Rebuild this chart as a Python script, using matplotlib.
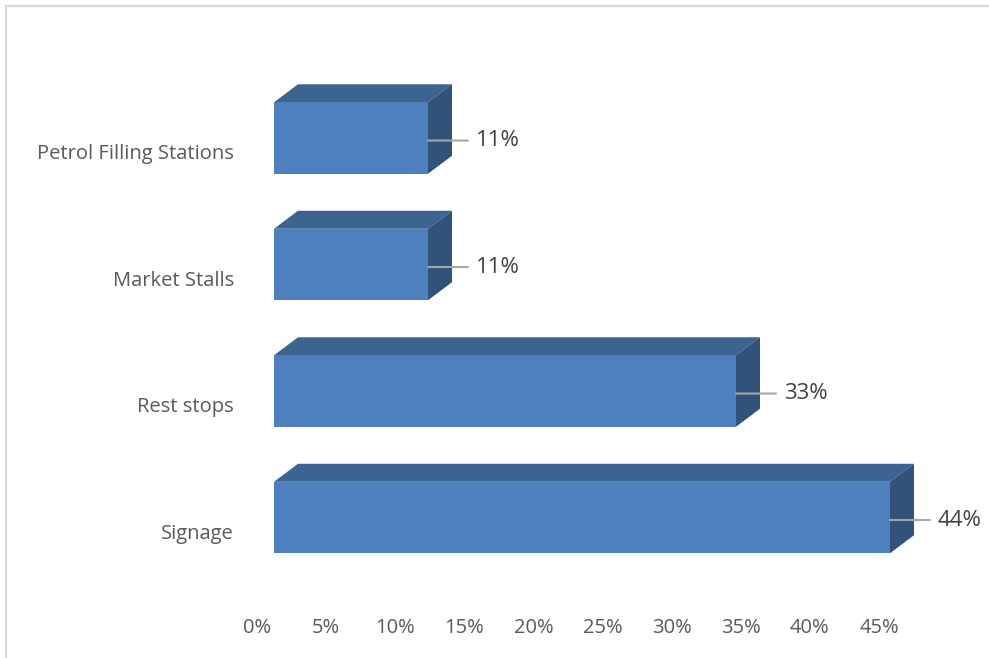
import matplotlib.pyplot as plt
from matplotlib.patches import Polygon, Rectangle

# data
categories = ['Signage', 'Rest stops', 'Market Stalls', 'Petrol Filling Stations']
values = [0.44, 0.33, 0.11, 0.11]
value_labels = ['44%', '33%', '11%', '11%']
tick_values = [0.00, 0.05, 0.10, 0.15, 0.20, 0.25, 0.30, 0.35, 0.40, 0.45]
tick_labels = ['0%', '5%', '10%', '15%', '20%', '25%', '30%', '35%', '40%', '45%']

W, H = 989, 658
front_c = '#4E80BD'
top_c = '#3D6390'
side_c = '#32527A'

fig = plt.figure(figsize=(W / 100, H / 100), dpi=100)
plt.rcParams['font.family'] = ['Open Sans', 'DejaVu Sans']

# bar axes: 0 at x=274px, 1% = 14px; category pitch 126.5px
ax = fig.add_axes([274 / W, 14 / H, 700 / W, 632.5 / H])
ax.set_xlim(0, 0.50)
ax.set_ylim(-1, 4)
ax.axis('off')

bh = 0.565
dx = 24 / 1400
dy = 18 / 126.5
for i, v in enumerate(values):
    y0, y1 = i - bh / 2, i + bh / 2
    ax.add_patch(Polygon([(0, y1), (dx, y1 + dy), (v + dx, y1 + dy), (v, y1)],
                         closed=True, facecolor=top_c, edgecolor='none'))
    ax.add_patch(Polygon([(v, y0), (v + dx, y0 + dy), (v + dx, y1 + dy), (v, y1)],
                         closed=True, facecolor=side_c, edgecolor='none'))
    ax.add_patch(Rectangle((0, y0), v, bh, facecolor=front_c, edgecolor='none'))
    ax.annotate('', xy=(v, i - 0.02), xytext=(40, 0), textcoords='offset pixels',
                arrowprops=dict(arrowstyle='-', color='#A6A6A6', lw=1.5,
                                shrinkA=0, shrinkB=0))
    ax.annotate(value_labels[i], xy=(v, i - 0.02), xytext=(48, 0),
                textcoords='offset pixels', ha='left', va='center',
                fontsize=16, color='#404040', annotation_clip=False)
    ax.text(-40 / 1400, i - 0.13, categories[i], ha='right', va='center',
            fontsize=14.5, color='#595959')

# x tick labels sit on a slightly different scale (0% at 257px, 45% at 880px)
tax = fig.add_axes([257 / W, 30 / H, 622 / W, 0.001])
tax.set_xlim(0, 0.45)
tax.set_xticks(tick_values)
tax.set_xticklabels(tick_labels, fontsize=14.5, color='#595959')
tax.tick_params(axis='x', length=0, pad=0)
tax.set_yticks([])
for s in tax.spines.values():
    s.set_visible(False)
tax.patch.set_alpha(0)
for lbl in tax.get_xticklabels():
    lbl.set_va('center')

# chart border
fig.patches.append(Rectangle((6 / W, -10 / H), 1.2, (H - 6 + 10) / H,
                             transform=fig.transFigure, fill=False,
                             edgecolor='#D9D9D9', lw=1.5))

fig.savefig('out.png', dpi=100)
